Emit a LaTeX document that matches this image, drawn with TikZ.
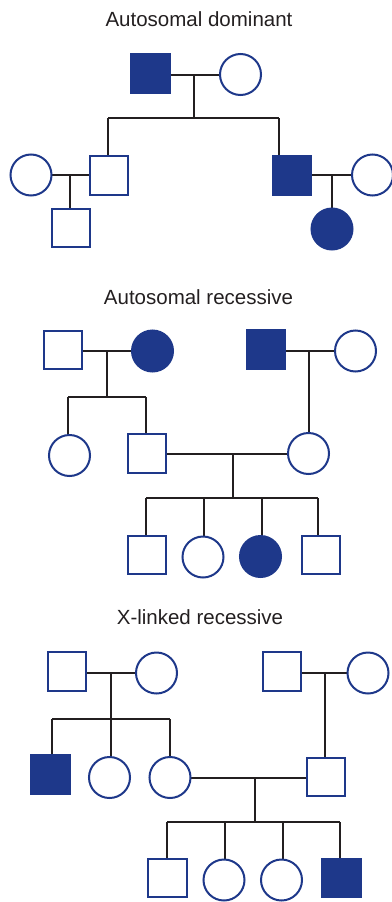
\documentclass[tikz,border=0pt]{standalone}
\usepackage{fontspec}
\setmainfont{Liberation Sans}
\definecolor{pblue}{RGB}{30,56,138}
\definecolor{pline}{RGB}{35,31,32}
\begin{document}
\begin{tikzpicture}[x=1pt,y=-1pt,
  male/.style={rectangle,draw=pblue,line width=2pt,minimum size=38.5pt,inner sep=0pt,fill=white},
  female/.style={circle,draw=pblue,line width=2pt,minimum size=41pt,inner sep=0pt,fill=white},
  aff/.style={fill=pblue},
  ln/.style={draw=pline,line width=2pt},
  ttl/.style={font=\fontsize{20.5}{24}\selectfont,text=pline,inner sep=0pt}]
\useasboundingbox (0,0) rectangle (391,902);

% ---------- Autosomal dominant ----------
\node[ttl] (t1) at (199,19) {Autosomal dominant};
\coordinate (m1) at (194,75);
\coordinate (s1a) at (108,118);
\coordinate (s1b) at (279,118);
\coordinate (s1m) at (194,118);
\coordinate (m2) at (70,175);
\coordinate (m3) at (332,175);
\draw[ln] (150.5,75) -- (240,75);
\draw[ln] (m1) -- (s1m);
\draw[ln] (s1a) -- (s1b);
\draw[ln] (s1a) -- (108,175);
\draw[ln] (s1b) -- (279,175);
\draw[ln] (31,175) -- (109,175);
\draw[ln] (m2) -- (70,228);
\draw[ln] (292,175) -- (372,175);
\draw[ln] (m3) -- (332,229);
\node[male,aff] (a1) at (150.5,73.5) {};
\node[female] (a2) at (240.5,74.5) {};
\node[male] (a3) at (109,175.5) {};
\node[male,aff] (a4) at (292,175.5) {};
\node[female] (a5) at (31,175) {};
\node[female] (a6) at (372.5,175) {};
\node[male] (a7) at (71,228) {};
\node[female,aff] (a8) at (332,229) {};

% ---------- Autosomal recessive ----------
\node[ttl] (t2) at (198.5,297) {Autosomal recessive};
\draw[ln] (63,351) -- (152,351);
\draw[ln] (107,351) -- (107,397);
\draw[ln] (68,397) -- (146,397);
\draw[ln] (68,397) -- (68,455);
\draw[ln] (146,397) -- (146,454);
\draw[ln] (266,351) -- (355,351);
\draw[ln] (309,351) -- (309,454);
\draw[ln] (147,454) -- (308,454);
\draw[ln] (233,454) -- (233,498);
\draw[ln] (146,498) -- (318,498);
\draw[ln] (146,498) -- (146,555);
\draw[ln] (204,498) -- (204,556);
\draw[ln] (262,498) -- (262,556);
\draw[ln] (318,498) -- (318,555);
\node[male] (b1) at (63,350) {};
\node[female,aff] (b2) at (152.5,351) {};
\node[male,aff] (b3) at (266,349.5) {};
\node[female] (b4) at (355.5,351) {};
\node[female] (b5) at (69.5,455.5) {};
\node[male] (b6) at (147,453.5) {};
\node[female] (b7) at (308.5,453.5) {};
\node[male] (b8) at (147,555) {};
\node[female] (b9) at (203,557) {};
\node[female,aff] (b10) at (260.5,556.5) {};
\node[male] (b11) at (321,555) {};

% ---------- X-linked recessive ----------
\node[ttl] (t3) at (200,617) {X-linked recessive};
\draw[ln] (67,673) -- (156,673);
\draw[ln] (111,673) -- (111,719);
\draw[ln] (52,719) -- (170,719);
\draw[ln] (52,719) -- (52,774);
\draw[ln] (111,719) -- (111,777);
\draw[ln] (170,719) -- (170,777);
\draw[ln] (282,673) -- (368,673);
\draw[ln] (325,673) -- (325,777);
\draw[ln] (170,778) -- (326,778);
\draw[ln] (255,778) -- (255,822);
\draw[ln] (167,822) -- (340,822);
\draw[ln] (167,822) -- (167,878);
\draw[ln] (225,822) -- (225,880);
\draw[ln] (283,822) -- (283,880);
\draw[ln] (340,822) -- (340,878);
\node[male] (c1) at (67,671.5) {};
\node[female] (c2) at (156.5,673) {};
\node[male] (c3) at (282,671.5) {};
\node[female] (c4) at (368,673) {};
\node[male,aff] (c5) at (50.5,774.5) {};
\node[female] (c6) at (109.5,777.5) {};
\node[female] (c7) at (170,777.5) {};
\node[male] (c8) at (326,777) {};
\node[male] (c9) at (167.5,878) {};
\node[female] (c10) at (224,880) {};
\node[female] (c11) at (281.5,880) {};
\node[male,aff] (c12) at (341.5,878) {};
\end{tikzpicture}
\end{document}
